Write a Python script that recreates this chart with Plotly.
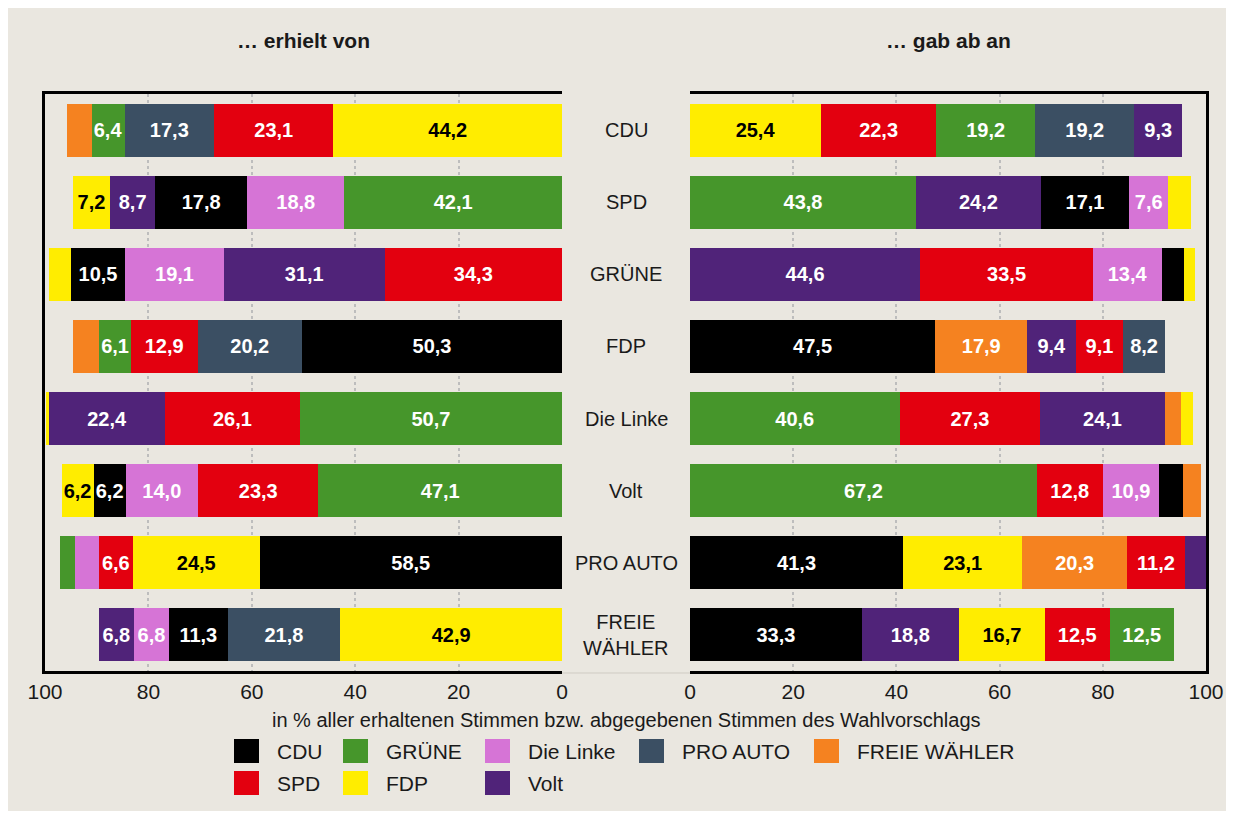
import plotly.graph_objects as go

# Seite hat 8px Body-Rand; Figur so gross, dass sie bei ~1228x811 endet
OFF = 8
W, H = 1220, 803

parteien = ["CDU", "SPD", "GRÜNE", "FDP", "Die Linke", "Volt", "PRO AUTO", "FREIE WÄHLER"]
kategorie_text = ["CDU", "SPD", "GRÜNE", "FDP", "Die Linke", "Volt", "PRO AUTO", "FREIE<br>WÄHLER"]

farben = {
    "CDU": "#000000",
    "SPD": "#E3000F",
    "GRÜNE": "#46962B",
    "FDP": "#FFED00",
    "Die Linke": "#D674D6",
    "Volt": "#502379",
    "PRO AUTO": "#3B4F63",
    "FREIE WÄHLER": "#F58220",
}

# "... erhielt von" - Anteile je Wahlvorschlag, von 0 aus gestapelt
erhielt_cdu = [("FDP", 44.2), ("SPD", 23.1), ("PRO AUTO", 17.3), ("GRÜNE", 6.4), ("FREIE WÄHLER", 4.7)]
erhielt_spd = [("GRÜNE", 42.1), ("Die Linke", 18.8), ("CDU", 17.8), ("Volt", 8.7), ("FDP", 7.2)]
erhielt_gruene = [("SPD", 34.3), ("Volt", 31.1), ("Die Linke", 19.1), ("CDU", 10.5), ("FDP", 4.2)]
erhielt_fdp = [("CDU", 50.3), ("PRO AUTO", 20.2), ("SPD", 12.9), ("GRÜNE", 6.1), ("FREIE WÄHLER", 5.0)]
erhielt_linke = [("GRÜNE", 50.7), ("SPD", 26.1), ("Volt", 22.4), ("FDP", 0.6)]
erhielt_volt = [("GRÜNE", 47.1), ("SPD", 23.3), ("Die Linke", 14.0), ("CDU", 6.2), ("FDP", 6.2)]
erhielt_proauto = [("CDU", 58.5), ("FDP", 24.5), ("SPD", 6.6), ("Die Linke", 4.6), ("GRÜNE", 2.9)]
erhielt_fw = [("FDP", 42.9), ("PRO AUTO", 21.8), ("CDU", 11.3), ("Die Linke", 6.8), ("Volt", 6.8)]

# "... gab ab an"
gab_cdu = [("FDP", 25.4), ("SPD", 22.3), ("GRÜNE", 19.2), ("PRO AUTO", 19.2), ("Volt", 9.3)]
gab_spd = [("GRÜNE", 43.8), ("Volt", 24.2), ("CDU", 17.1), ("Die Linke", 7.6), ("FDP", 4.4)]
gab_gruene = [("Volt", 44.6), ("SPD", 33.5), ("Die Linke", 13.4), ("CDU", 4.2), ("FDP", 2.1)]
gab_fdp = [("CDU", 47.5), ("FREIE WÄHLER", 17.9), ("Volt", 9.4), ("SPD", 9.1), ("PRO AUTO", 8.2)]
gab_linke = [("GRÜNE", 40.6), ("SPD", 27.3), ("Volt", 24.1), ("FREIE WÄHLER", 3.1), ("FDP", 2.3)]
gab_volt = [("GRÜNE", 67.2), ("SPD", 12.8), ("Die Linke", 10.9), ("CDU", 4.7), ("FREIE WÄHLER", 3.4)]
gab_proauto = [("CDU", 41.3), ("FDP", 23.1), ("FREIE WÄHLER", 20.3), ("SPD", 11.2), ("Volt", 4.1)]
gab_fw = [("CDU", 33.3), ("Volt", 18.8), ("FDP", 16.7), ("SPD", 12.5), ("GRÜNE", 12.5)]

erhielt = [erhielt_cdu, erhielt_spd, erhielt_gruene, erhielt_fdp,
           erhielt_linke, erhielt_volt, erhielt_proauto, erhielt_fw]
gab = [gab_cdu, gab_spd, gab_gruene, gab_fdp, gab_linke, gab_volt, gab_proauto, gab_fw]

legende_spalten = [["CDU", "SPD"], ["GRÜNE", "FDP"], ["Die Linke", "Volt"], ["PRO AUTO"], ["FREIE WÄHLER"]]
tickwerte = [0, 20, 40, 60, 80, 100]

FONT = "Liberation Sans, Arial, sans-serif"
BG = "#EAE7E0"
TXT = "#1a1a1a"


def px(x):
    # Bildschirm-x -> paper
    return (x - OFF) / W


def py(y):
    return 1 - (y - OFF) / H


def fmt(v):
    return f"{v:.1f}".replace(".", ",")


fig = go.Figure()


def add_panel(rows, xa, ya):
    for k in range(max(len(r) for r in rows)):
        xs, ys, cols, txt, tcol = [], [], [], [], []
        for cat, row in zip(parteien, rows):
            if k >= len(row):
                continue
            p, v = row[k]
            xs.append(v)
            ys.append(cat)
            cols.append(farben[p])
            txt.append(fmt(v) if v >= 6 else "")
            tcol.append("#000000" if p == "FDP" else "#FFFFFF")
        fig.add_trace(go.Bar(
            orientation="h", x=xs, y=ys,
            marker=dict(color=cols, line=dict(width=0)),
            text=txt, textposition="inside", insidetextanchor="middle",
            textangle=0, constraintext="none",
            textfont=dict(family=FONT, size=20, color=tcol, weight="bold"),
            showlegend=False, hoverinfo="x+y",
            xaxis=xa, yaxis=ya,
        ))


add_panel(erhielt, "x", "y")
add_panel(gab, "x2", "y2")

axis_common = dict(
    showline=True, linecolor="#000000", linewidth=3, mirror=True,
    tickvals=tickwerte, ticks="", showgrid=True, gridcolor="#BDBDBD",
    gridwidth=2, griddash="dot", zeroline=False, automargin=False,
    tickfont=dict(family=FONT, size=21, color=TXT),
    fixedrange=True,
)
ydom = [py(671), py(94)]
fig.update_layout(
    xaxis=dict(domain=[px(45), px(562)], range=[100, 0], anchor="y", **axis_common),
    xaxis2=dict(domain=[px(690), px(1206)], range=[0, 100], anchor="y2", **axis_common),
    yaxis=dict(domain=ydom, anchor="x", categoryorder="array", categoryarray=parteien,
               autorange="reversed", showticklabels=False, showline=True, automargin=False,
               linecolor="#000000", linewidth=3, showgrid=False, ticks=""),
    yaxis2=dict(domain=ydom, anchor="x2", side="right", matches="y", showticklabels=False,
                showline=True, linecolor="#000000", linewidth=3, showgrid=False, ticks="",
                automargin=False),
    barmode="stack",
    bargap=0.265,
    width=W, height=H,
    margin=dict(l=0, r=0, t=0, b=0, pad=0, autoexpand=False),
    paper_bgcolor=BG,
    plot_bgcolor=BG,
    font=dict(family=FONT, color=TXT),
)

shapes = [
    dict(type="line", xref="paper", yref="paper", x0=px(562), x1=px(690), y0=py(673), y1=py(673),
         line=dict(color="#CFCBC3", width=1)),
]
annotations = []

# Kategorien in der Mitte
for cat, lab in zip(parteien, kategorie_text):
    annotations.append(dict(xref="paper", yref="y", x=px(626), y=cat, text=lab, showarrow=False,
                            xanchor="center", yanchor="middle",
                            font=dict(family=FONT, size=20, color=TXT), align="center"))

# Überschriften
for ref, titel in [("x domain", "… erhielt von"), ("x2 domain", "… gab ab an")]:
    annotations.append(dict(xref=ref, yref="paper", x=0.5, y=py(40), text=titel,
                            xanchor="center", yanchor="middle", showarrow=False,
                            font=dict(family=FONT, size=21, color=TXT, weight="bold")))
annotations.append(dict(xref="paper", yref="paper", x=px(626), y=py(720),
                        text="in % aller erhaltenen Stimmen bzw. abgegebenen Stimmen des Wahlvorschlags",
                        xanchor="center", yanchor="middle", showarrow=False,
                        font=dict(family=FONT, size=20, color=TXT)))

# Legende
spalten_x = [234, 343, 485, 639, 814]
zeilen_y = [751, 783]
for sx, spalte in zip(spalten_x, legende_spalten):
    for zy, p in zip(zeilen_y, spalte):
        shapes.append(dict(type="rect", xref="paper", yref="paper",
                           x0=px(sx), x1=px(sx + 25), y0=py(zy + 12), y1=py(zy - 12),
                           fillcolor=farben[p], line=dict(width=0)))
        annotations.append(dict(xref="paper", yref="paper", x=px(sx + 41), y=py(zy), text=p,
                                xanchor="left", yanchor="middle", showarrow=False,
                                font=dict(family=FONT, size=21, color=TXT)))

fig.update_layout(shapes=shapes, annotations=annotations)

fig.write_html("out.html")
